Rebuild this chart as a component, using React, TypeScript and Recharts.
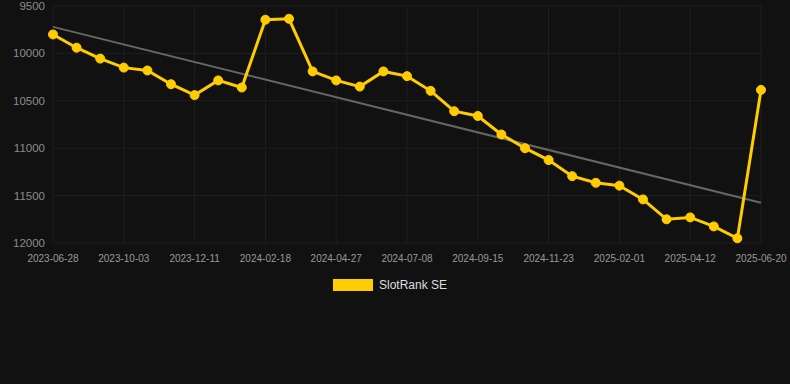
import { LineChart, Line, XAxis, YAxis, CartesianGrid } from 'recharts';

const DATES = [
    '2023-06-28', '2023-07-30', '2023-09-01', '2023-10-03', '2023-10-26', '2023-11-18',
    '2023-12-11', '2024-01-03', '2024-01-26', '2024-02-18', '2024-03-12', '2024-04-04',
    '2024-04-27', '2024-05-20', '2024-06-14', '2024-07-08', '2024-07-31', '2024-08-23',
    '2024-09-15', '2024-10-08', '2024-10-31', '2024-11-23', '2024-12-16', '2025-01-08',
    '2025-02-01', '2025-02-24', '2025-03-19', '2025-04-12', '2025-05-05', '2025-05-28',
    '2025-06-20',
];

const RANKS = [
    9800, 9940, 10055, 10150, 10180, 10325, 10440, 10285, 10360, 9645, 9635,
    10190, 10285, 10350, 10190, 10240, 10395, 10610, 10660, 10855, 11000,
    11125, 11295, 11365, 11395, 11540, 11750, 11730, 11825, 11950, 10385,
];

// trend line end points
const TREND_START = 9720;
const TREND_END = 11575;

const Y_TICKS = [9500, 10000, 10500, 11000, 11500, 12000];

const GOLD = '#FFCC00';

const chartData = DATES.map((date, i) => ({
    date,
    rank: RANKS[i],
    trend: i === 0 ? TREND_START : i === DATES.length - 1 ? TREND_END : null,
}));

document.body.style.margin = '0';
document.body.style.background = '#111111';

export default function App() {
    return (
        <div style={{ position: 'relative', width: 790, height: 384, background: '#111111', fontFamily: 'Liberation Sans, Arial, sans-serif' }}>
            <LineChart
                width={790}
                height={275}
                data={chartData}
                margin={{ top: 6, right: 29, left: 0, bottom: 2 }}
            >
                <CartesianGrid stroke="#1f1f1f" />
                <XAxis
                    dataKey="date"
                    interval={2}
                    axisLine={false}
                    tickLine={false}
                    tickMargin={6}
                    height={30}
                    tick={{ fill: '#999999', fontSize: 10 }}
                />
                <YAxis
                    reversed
                    domain={[9500, 12000]}
                    ticks={Y_TICKS}
                    axisLine={false}
                    tickLine={false}
                    width={53}
                    tick={{ fill: '#8c8c8c', fontSize: 11.5 }}
                />
                <Line
                    dataKey="trend"
                    connectNulls
                    stroke="#666666"
                    strokeWidth={2}
                    dot={false}
                    isAnimationActive={false}
                />
                <Line
                    dataKey="rank"
                    stroke={GOLD}
                    strokeWidth={3}
                    dot={{ r: 4.5, fill: GOLD, stroke: GOLD, strokeWidth: 1 }}
                    activeDot={false}
                    isAnimationActive={false}
                />
            </LineChart>
            <div style={{ position: 'absolute', left: 333, top: 278, display: 'flex', alignItems: 'center' }}>
                <div style={{ width: 40, height: 12, background: GOLD }} />
                <span style={{ marginLeft: 6, fontSize: 12, color: '#dddddd' }}>SlotRank SE</span>
            </div>
        </div>
    );
}
